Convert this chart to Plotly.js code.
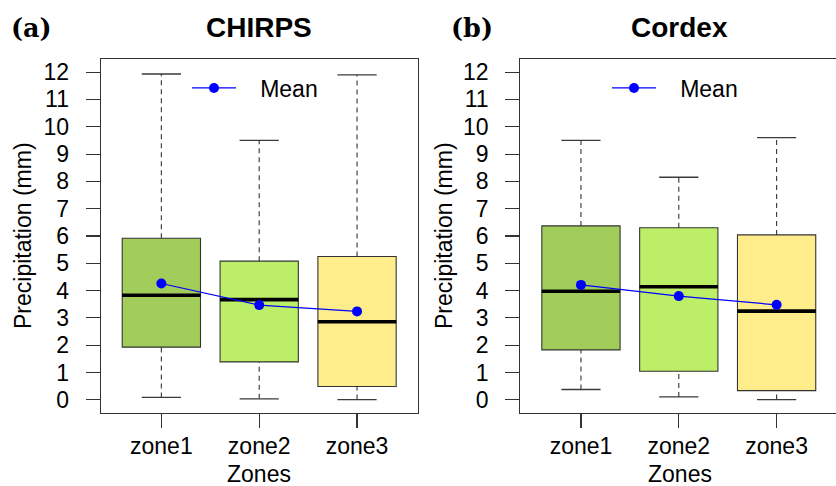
<!DOCTYPE html>
<html>
<head>
<meta charset="utf-8">
<script src="https://cdn.plot.ly/plotly-3.0.1.min.js"></script>
<style>html,body{margin:0;padding:0;background:#fff;}#chart{width:836px;height:486px;}</style>
</head>
<body>
<div id="chart"></div>
<script>
// ---- data ----
var zones = ['zone1', 'zone2', 'zone3'];
var zoneColors = ['#A2CD5A', '#BCEE68', '#FFEC8B'];

var chirpsLower  = [0.09, 0.04, 0.01];
var chirpsQ1     = [1.93, 1.39, 0.49];
var chirpsMedian = [3.83, 3.67, 2.86];
var chirpsQ3     = [5.92, 5.08, 5.25];
var chirpsUpper  = [11.93, 9.50, 11.90];
var chirpsMean   = [4.26, 3.47, 3.24];

var cordexLower  = [0.38, 0.11, 0.01];
var cordexQ1     = [1.83, 1.05, 0.34];
var cordexMedian = [3.98, 4.14, 3.25];
var cordexQ3     = [6.37, 6.30, 6.04];
var cordexUpper  = [9.50, 8.15, 9.60];
var cordexMean   = [4.21, 3.80, 3.48];

var yTicks = [0,1,2,3,4,5,6,7,8,9,10,11,12];
var panelTitles = ['CHIRPS', 'Cordex'];
var panelTags = ['(a)', '(b)'];
var xTitle = 'Zones';
var yTitle = 'Precipitation (mm)';
var legendLabel = 'Mean';

// ---- styles ----
var FONT = 'Liberation Sans, Arial, sans-serif';
var EDGE = '#333333';
var FS = 23;

function panelTraces(lower, q1, med, q3, upper, mean, xa, ya, legendName) {
  var tr = [];
  for (var i = 0; i < zones.length; i++) {
    tr.push({
      type: 'box', x: [zones[i]], q1: [q1[i]], median: [med[i]], q3: [q3[i]],
      lowerfence: [q1[i]], upperfence: [q3[i]],
      width: 0.8, whiskerwidth: 0, boxpoints: false,
      fillcolor: zoneColors[i], line: {color: EDGE, width: 1.1},
      xaxis: xa, yaxis: ya, showlegend: false, hoverinfo: 'skip'
    });
  }
  var wx = [], wy = [];
  for (var j = 0; j < zones.length; j++) {
    wx.push(zones[j], zones[j], null, zones[j], zones[j], null);
    wy.push(q3[j], upper[j], null, lower[j], q1[j], null);
  }
  tr.push({type: 'scatter', mode: 'lines', x: wx, y: wy, connectgaps: false,
    line: {color: EDGE, width: 1.1, dash: '5px,4px'},
    xaxis: xa, yaxis: ya, showlegend: false, hoverinfo: 'skip'});
  tr.push({type: 'scatter', mode: 'markers', x: zones.concat(zones), y: upper.concat(lower),
    marker: {symbol: 'line-ew', size: 28, line: {color: '#3a3a3a', width: 1.3}},
    xaxis: xa, yaxis: ya, showlegend: false, hoverinfo: 'skip'});
  tr.push({type: 'scatter', mode: 'markers', x: zones, y: med,
    marker: {symbol: 'line-ew', size: 56, line: {color: '#000', width: 3.6}},
    xaxis: xa, yaxis: ya, showlegend: false, hoverinfo: 'skip'});
  tr.push({type: 'scatter', mode: 'lines+markers', x: zones, y: mean,
    name: '\u00A0\u00A0\u00A0' + legendLabel,
    line: {color: '#0000FF', width: 1.2}, marker: {color: '#0000FF', size: 10},
    xaxis: xa, yaxis: ya, legend: legendName, showlegend: true});
  return tr;
}

var data = [].concat(
  panelTraces(chirpsLower, chirpsQ1, chirpsMedian, chirpsQ3, chirpsUpper, chirpsMean, 'x', 'y', 'legend'),
  panelTraces(cordexLower, cordexQ1, cordexMedian, cordexQ3, cordexUpper, cordexMean, 'x2', 'y2', 'legend2')
);

function xAxis(domain, range, anchor) {
  return {domain: domain, anchor: anchor, type: 'category', categoryorder: 'array', categoryarray: zones,
    range: range, showline: true, mirror: true, linecolor: EDGE, linewidth: 1.1,
    ticks: 'outside', ticklen: 14, tickcolor: EDGE, tickwidth: 1.1, ticklabelstandoff: -2,
    tickfont: {family: FONT, size: FS, color: '#000'}, showgrid: false, zeroline: false, fixedrange: true};
}
function yAxis(domain, anchor, mirror) {
  return {domain: domain, anchor: anchor, range: [-0.48, 12.48], tickmode: 'array', tickvals: yTicks,
    ticktext: yTicks.map(String), showline: true, mirror: mirror, linecolor: EDGE, linewidth: 1.1,
    ticks: 'outside', ticklen: 14, tickcolor: EDGE, tickwidth: 1.1, ticklabelstandoff: 12,
    tickfont: {family: FONT, size: FS, color: '#000'}, showgrid: false, zeroline: false, fixedrange: true};
}

var W = 836, H = 486;
function px(x) { return x / W; }
function py(y) { return 1 - y / H; }

var annotations = [];
var titleX = [259, 679.5], tagX = [31.5, 471.5], yTitleX = [23, 444];
for (var k = 0; k < 2; k++) {
  annotations.push({text: '<b>' + panelTitles[k] + '</b>', xref: 'paper', yref: 'paper', x: px(titleX[k]), y: py(28),
    xanchor: 'center', yanchor: 'middle', showarrow: false, font: {family: FONT, size: 28, color: '#000'}});
  annotations.push({text: '<b>' + panelTags[k] + '</b>', xref: 'paper', yref: 'paper', x: px(tagX[k]), y: py(28),
    xanchor: 'center', yanchor: 'middle', showarrow: false, font: {family: 'DejaVu Serif, serif', size: 25.5, color: '#000'}});
  annotations.push({text: xTitle, xref: 'paper', yref: 'paper', x: px(titleX[k]), y: py(474),
    xanchor: 'center', yanchor: 'middle', showarrow: false, font: {family: FONT, size: FS, color: '#000'}});
  annotations.push({text: yTitle, xref: 'paper', yref: 'paper', x: px(yTitleX[k]), y: py(236), textangle: -90,
    xanchor: 'center', yanchor: 'middle', showarrow: false, font: {family: FONT, size: FS, color: '#000'}});
}

var legendStyle = function (x) {
  return {x: x, y: py(88), xanchor: 'left', yanchor: 'middle', bgcolor: 'rgba(0,0,0,0)', borderwidth: 0,
    itemwidth: 44, font: {family: FONT, size: FS, color: '#000'}};
};

var layout = {
  width: W, height: H, margin: {l: 0, r: 0, t: 0, b: 0},
  paper_bgcolor: '#fff', plot_bgcolor: '#fff', showlegend: true, boxmode: 'overlay',
  xaxis: xAxis([100.7 / W, 417.7 / W], [-0.62, 2.62], 'y'),
  yaxis: yAxis([py(413), py(59)], 'x', true),
  xaxis2: xAxis([520.3 / W, 1], [-0.62, 2.607], 'y2'),
  yaxis2: yAxis([py(413), py(59)], 'x2', false),
  legend: legendStyle(px(187)),
  legend2: legendStyle(px(607)),
  annotations: annotations
};

Plotly.newPlot('chart', data, layout, {displayModeBar: false, staticPlot: true});
</script>
</body>
</html>
